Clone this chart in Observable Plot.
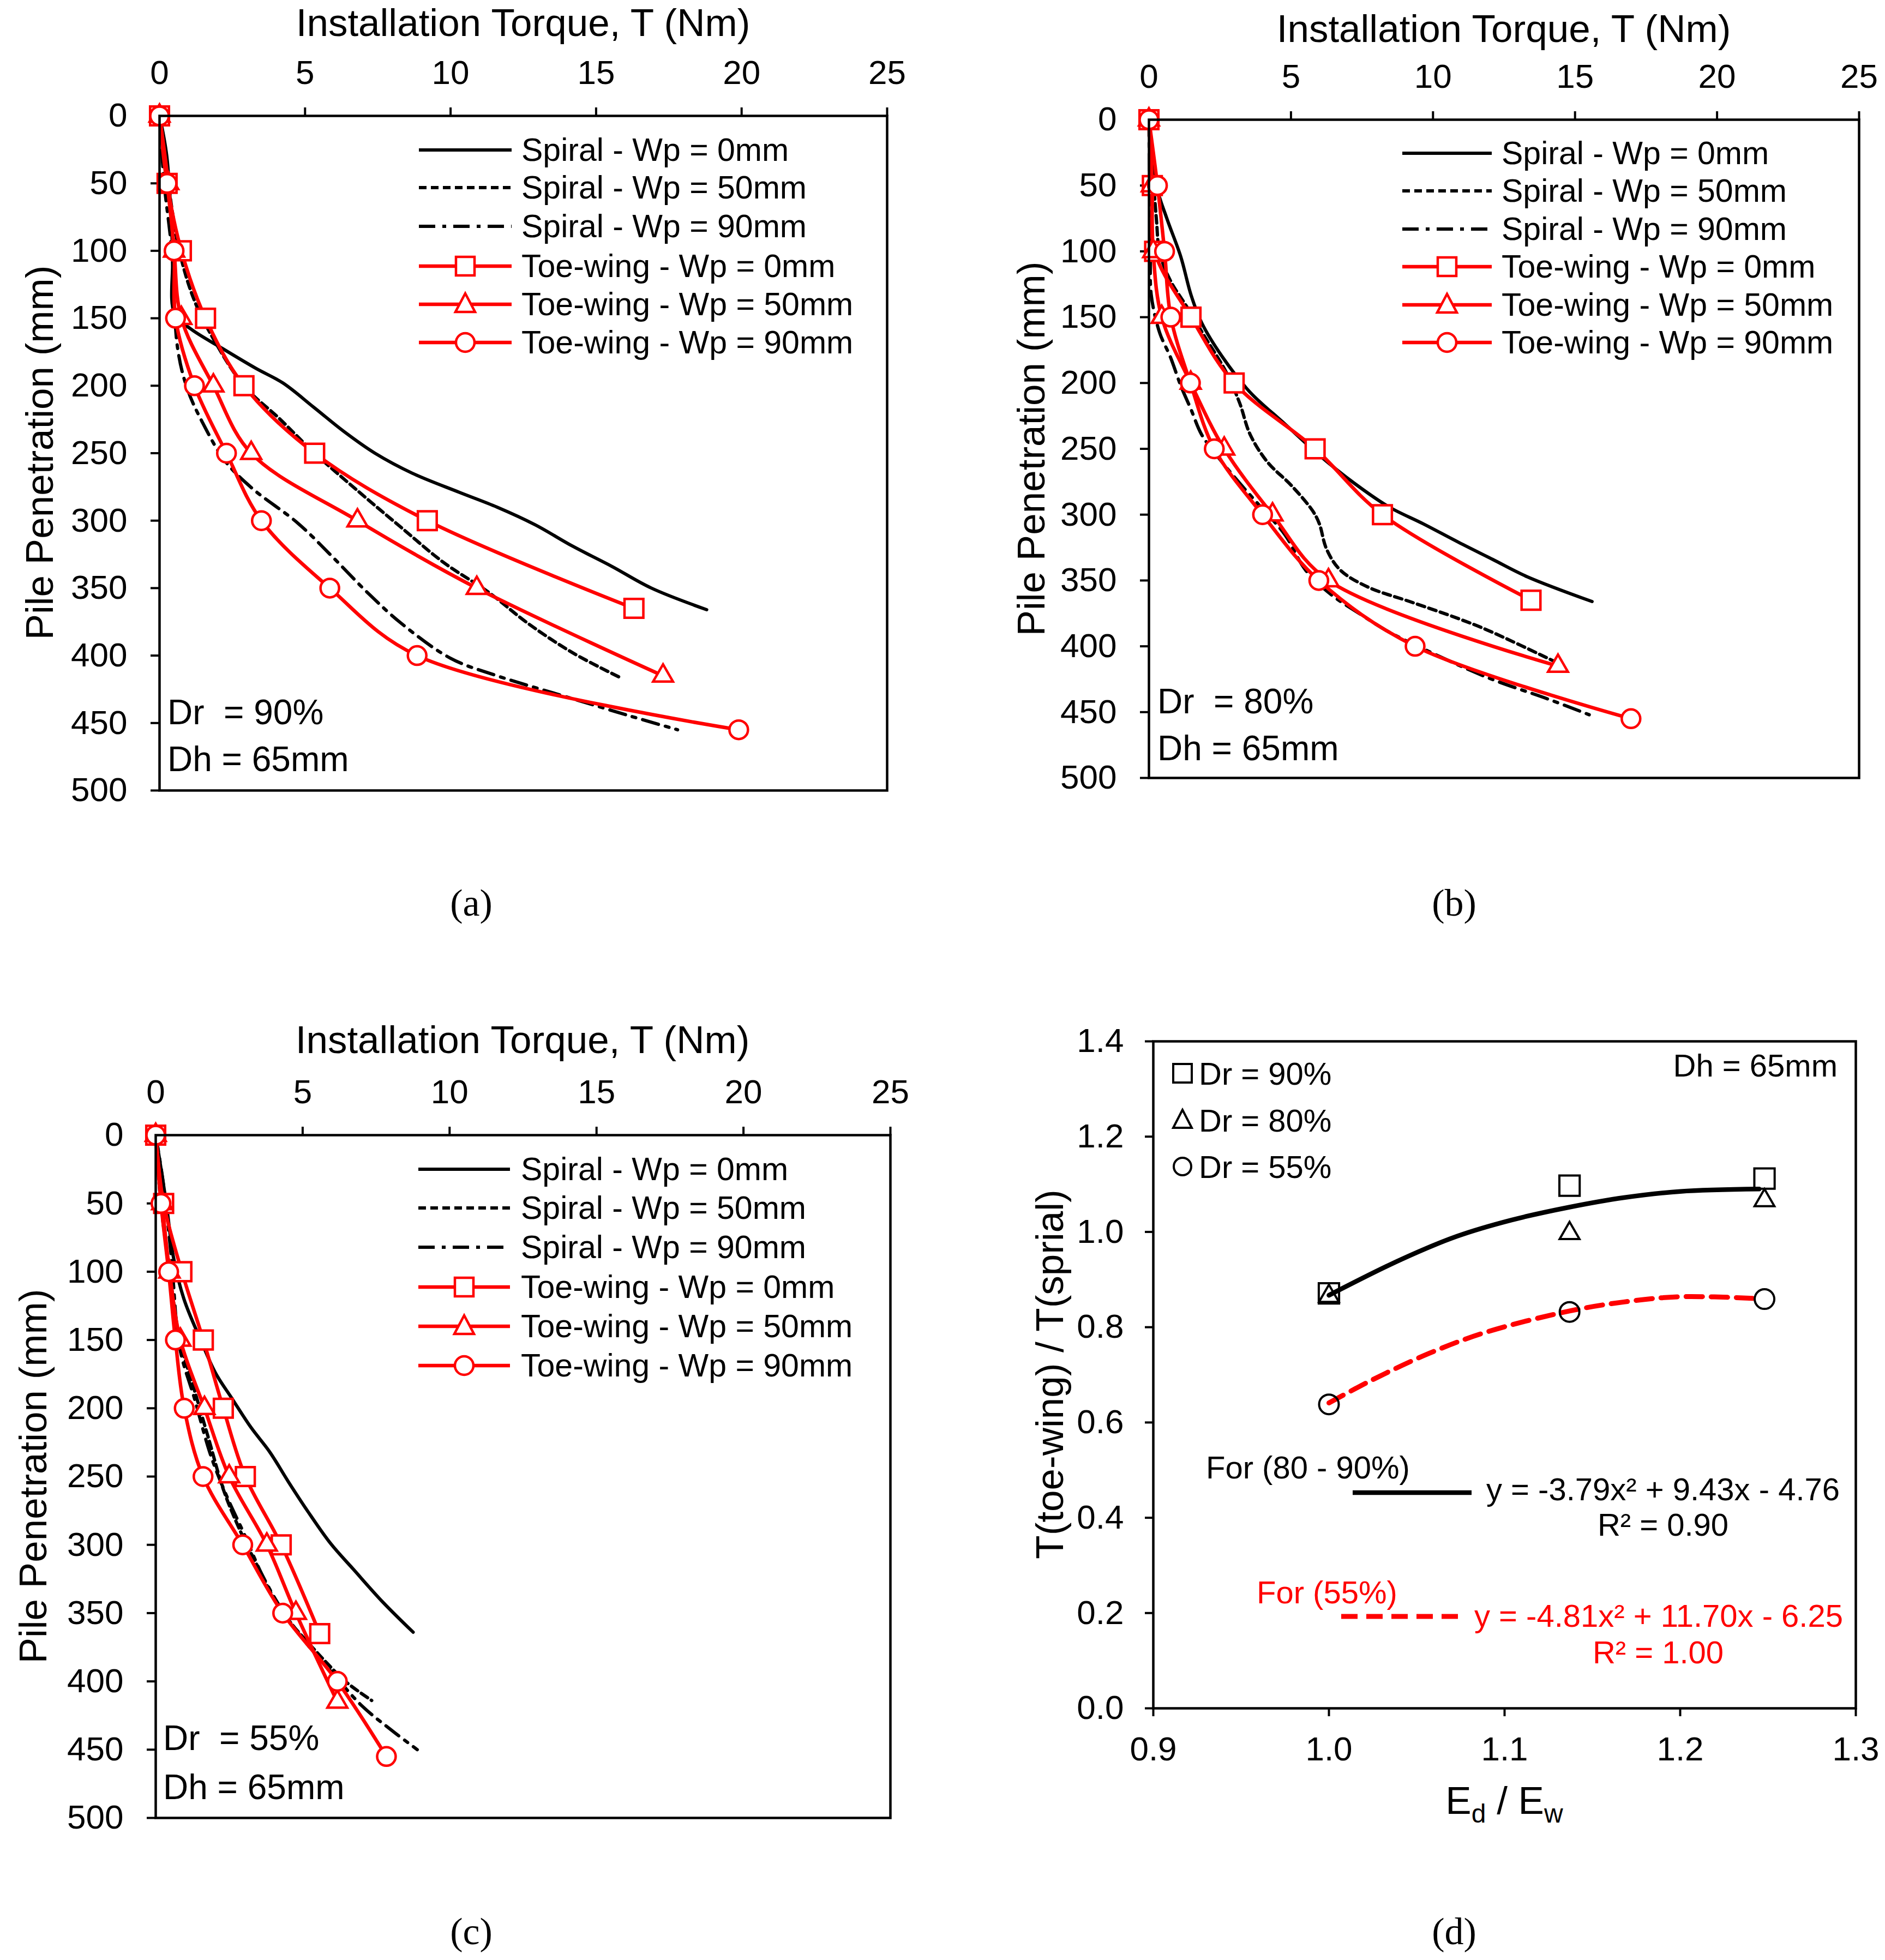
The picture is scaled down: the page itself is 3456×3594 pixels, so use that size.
<!DOCTYPE html>
<html>
<head>
<meta charset="utf-8">
<script src="https://cdn.jsdelivr.net/npm/d3@7"></script>
<script src="https://cdn.jsdelivr.net/npm/@observablehq/plot@0.6"></script>
<style>
  body { margin: 0; background: #fff; }
  #page { position: relative; width: 3456px; height: 3594px; background: #fff; overflow: hidden; }
  .panel { position: absolute; }
  #overlay { position: absolute; left: 0; top: 0; pointer-events: none; }
</style>
</head>
<body>
<div id="page"></div>
<script>
// Axis ticks shared by the three torque panels
const torqueTicks = [0, 5, 10, 15, 20, 25];
const depthTicks = [0, 50, 100, 150, 200, 250, 300, 350, 400, 450, 500];
const ratioTicksX = [0.9, 1.0, 1.1, 1.2, 1.3];
const ratioTicksY = [0, 0.2, 0.4, 0.6, 0.8, 1.0, 1.2, 1.4];

const seriesNames = [
    "Spiral - Wp = 0mm",
    "Spiral - Wp = 50mm",
    "Spiral - Wp = 90mm",
    "Toe-wing - Wp = 0mm",
    "Toe-wing - Wp = 50mm",
    "Toe-wing - Wp = 90mm"
];

// Toe-wing measurement depths (mm)
const sqDepth = [0, 50, 100, 150, 200, 250, 300, 365];
const triDepth = [0, 50, 100, 150, 200, 250, 300, 350, 415];
const cirDepth = [0, 50, 100, 150, 200, 250, 300, 350, 400, 455];

// (a) Dr = 90% - toe-wing torque (Nm)
const aSq = [0, 0.26, 0.75, 1.58, 2.9, 5.33, 9.2, 16.3];
const aTri = [0, 0.3, 0.5, 0.75, 1.85, 3.15, 6.8, 10.9, 17.3];
const aCir = [0, 0.26, 0.5, 0.55, 1.2, 2.3, 3.5, 5.85, 8.85, 19.9];
// (a) spiral curves [torque, depth]
const aSpiral0 = [[0, 0], [0.25, 30], [0.45, 100], [0.52, 147], [1.08, 158], [2.13, 172], [3.3, 187], [4.24, 198], [5.3, 216], [6.34, 234], [7.4, 250], [8.7, 265], [10.3, 279], [11.6, 290], [12.9, 303], [14.2, 319], [15.55, 334], [16.9, 350], [18.8, 366]];
const aSpiral50 = [[0, 0], [0.3, 50], [0.68, 100], [1.2, 137], [1.87, 166], [2.9, 200], [4.1, 224], [5.33, 250], [6.87, 279], [8.3, 305], [9.76, 331], [11.3, 353], [12.65, 376], [14.2, 398], [15.8, 416]];
const aSpiral90 = [[0, 0], [0.16, 50], [0.42, 100], [0.62, 172], [0.95, 202], [1.47, 227], [2.26, 256], [3.18, 276], [4.76, 302], [5.95, 327], [7.13, 353], [8.3, 376], [10.0, 402], [11.6, 415], [14.2, 432], [16.2, 445], [17.8, 455]];

// (b) Dr = 80%
const bSq = [0, 0.12, 0.2, 1.48, 3.0, 5.85, 8.22, 13.45];
const bTri = [0, 0.1, 0.15, 0.45, 1.47, 2.65, 4.35, 6.32, 14.4];
const bCir = [0, 0.3, 0.55, 0.77, 1.46, 2.3, 4.0, 5.98, 9.37, 16.97];
const bSpiral0 = [[0, 0], [0.26, 50], [0.63, 75], [1.12, 104], [1.48, 133], [1.85, 154], [2.58, 180], [3.56, 207], [4.78, 231], [6.0, 255], [7.22, 276], [8.44, 294], [9.66, 307], [10.9, 321], [12.1, 334], [13.3, 347], [15.6, 366]];
const bSpiral50 = [[0, 0], [0.26, 75], [0.38, 101], [0.75, 122], [1.36, 143], [1.97, 165], [2.7, 191], [3.19, 215], [3.56, 239], [4.17, 260], [5.02, 278], [5.76, 297], [6.0, 307], [6.25, 326], [6.73, 342], [7.71, 355], [9.18, 366], [10.9, 379], [11.95, 388], [14.42, 413]];
const bSpiral90 = [[0, 0], [0.05, 100], [0.08, 133], [0.38, 162], [0.75, 180], [1.12, 202], [1.48, 220], [1.85, 239], [2.46, 257], [3.19, 276], [3.93, 294], [4.78, 315], [5.51, 342], [6.37, 360], [7.47, 376], [8.44, 389], [9.86, 404], [11.95, 424], [14.04, 440], [15.5, 452]];

// (c) Dr = 55%
const cSq = [0, 0.27, 0.89, 1.62, 2.3, 3.05, 4.27, 5.58];
const cTri = [0, 0.22, 0.47, 0.84, 1.66, 2.5, 3.78, 4.77, 6.18];
const cCir = [0, 0.18, 0.44, 0.67, 0.97, 1.61, 2.96, 4.32, 6.18, 7.85];
const cSpiral0 = [[0, 0], [0.36, 50], [0.6, 89], [0.96, 120], [1.53, 150], [2.03, 174], [2.6, 193], [3.24, 214], [3.88, 232], [4.52, 254], [5.16, 275], [5.95, 299], [6.73, 318], [7.73, 342], [8.76, 364]];
const cSpiral50 = [[0, 0], [0.17, 49], [0.46, 98], [0.82, 150], [1.32, 187], [1.81, 223], [2.31, 260], [2.88, 290], [3.45, 315], [4.02, 339], [4.59, 357], [5.24, 373], [5.8, 386], [6.45, 400], [7.35, 414]];
const cSpiral90 = [[0, 0], [0.25, 34], [0.53, 89], [0.82, 156], [1.32, 193], [1.88, 235], [2.45, 266], [3.03, 293], [3.6, 321], [4.31, 348], [5.16, 373], [6.02, 394], [7.02, 418], [8.16, 438], [8.9, 450]];

// (d) torque ratio vs Ed/Ew
const edRatio = [1.0, 1.137, 1.248];
const dr90 = [0.871, 1.097, 1.112];
const dr80 = [0.865, 0.997, 1.066];
const dr55 = [0.638, 0.832, 0.859];
const fitHigh = [[1.0, 0.867], [1.041, 0.942], [1.073, 0.991], [1.104, 1.025], [1.137, 1.052], [1.168, 1.072], [1.2, 1.085], [1.245, 1.09]];
const fit55 = [[1.0, 0.641], [1.025, 0.69], [1.057, 0.745], [1.089, 0.789], [1.137, 0.834], [1.168, 0.853], [1.2, 0.864], [1.245, 0.86]];
const drLabels = ["Dr = 90%", "Dr = 80%", "Dr = 55%"];

const RED = "#ff0000";
const FONT = "'Liberation Sans', Arial, sans-serif";
const page = document.getElementById("page");

// plot frames on the page (px)
const frameA = {x0: 292, x1: 1626, y0: 212, y1: 1449};
const frameB = {x0: 2106, x1: 3408, y0: 219, y1: 1426};
const frameC = {x0: 285, x1: 1632, y0: 2081, y1: 3333};
const frameD = {x0: 2114, x1: 3402, y0: 1909, y1: 3132};

// line weights
const BLACK_W = 6;
const RED_W = 6.5;
const MARK_W = 4.5;

function place(svg, left, top, w, h) {
    const div = document.createElement("div");
    div.className = "panel";
    div.style.left = left + "px";
    div.style.top = top + "px";
    div.style.width = w + "px";
    div.style.height = h + "px";
    div.appendChild(svg);
    page.appendChild(div);
}

function torquePanel(f, sp0, sp50, sp90, sq, tri, cir) {
    const ML = 200, MT = 170, MR = 40, MB = 40;
    const w = f.x1 - f.x0 + ML + MR;
    const h = f.y1 - f.y0 + MT + MB;
    const sqPts = d3.zip(sq, sqDepth);
    const triPts = d3.zip(tri, triDepth);
    const cirPts = d3.zip(cir, cirDepth);
    const xy = {x: d => d[0], y: d => d[1]};
    const smooth = {...xy, curve: "catmull-rom"};

    const chart = Plot.plot({
        width: w,
        height: h,
        marginLeft: ML,
        marginTop: MT,
        marginRight: MR,
        marginBottom: MB,
        style: {fontFamily: FONT, fontSize: "62px", color: "black", background: "transparent", maxWidth: "none"},
        x: {domain: [0, 25]},
        y: {domain: [0, 500], reverse: true},
        marks: [
            Plot.axisX({anchor: "top", ticks: torqueTicks, tickSize: 16, tickPadding: 43, strokeWidth: 4, label: null}),
            Plot.axisY({anchor: "left", ticks: depthTicks, tickSize: 16, tickPadding: 43, strokeWidth: 4, label: null}),
            // spiral piles (black)
            Plot.line(sp0, {...smooth, stroke: "black", strokeWidth: BLACK_W}),
            Plot.line(sp50, {...smooth, stroke: "black", strokeWidth: BLACK_W, strokeDasharray: "14,8"}),
            Plot.line(sp90, {...smooth, stroke: "black", strokeWidth: BLACK_W, strokeDasharray: "30,13,7,13"}),
            // toe-wing piles (red)
            Plot.line(sqPts, {...smooth, stroke: RED, strokeWidth: RED_W}),
            Plot.line(triPts, {...smooth, stroke: RED, strokeWidth: RED_W}),
            Plot.line(cirPts, {...smooth, stroke: RED, strokeWidth: RED_W}),
            Plot.dot(sqPts, {...xy, symbol: "square", r: 19.5, stroke: RED, fill: "white", strokeWidth: MARK_W}),
            Plot.dot(triPts, {...xy, symbol: "triangle", r: 13.5, stroke: RED, fill: "white", strokeWidth: MARK_W}),
            Plot.dot(cirPts, {...xy, symbol: "circle", r: 17, stroke: RED, fill: "white", strokeWidth: MARK_W}),
            Plot.frame({stroke: "black", strokeWidth: 4.5})
        ]
    });
    place(chart, f.x0 - ML, f.y0 - MT, w, h);
}

function ratioPanel(f) {
    const ML = 200, MT = 60, MR = 60, MB = 130;
    const w = f.x1 - f.x0 + ML + MR;
    const h = f.y1 - f.y0 + MT + MB;
    const fmt = d3.format(".1f");
    const xy = {x: d => d[0], y: d => d[1]};
    const chart = Plot.plot({
        width: w,
        height: h,
        marginLeft: ML,
        marginTop: MT,
        marginRight: MR,
        marginBottom: MB,
        style: {fontFamily: FONT, fontSize: "62px", color: "black", background: "transparent", maxWidth: "none"},
        x: {domain: [0.9, 1.3]},
        y: {domain: [0, 1.4]},
        marks: [
            Plot.axisX({anchor: "bottom", ticks: ratioTicksX, tickFormat: fmt, tickSize: 15, tickPadding: 36, strokeWidth: 4, label: null}),
            Plot.axisY({anchor: "left", ticks: ratioTicksY, tickFormat: fmt, tickSize: 15, tickPadding: 39, strokeWidth: 4, label: null}),
            Plot.line(fitHigh, {...xy, curve: "catmull-rom", stroke: "black", strokeWidth: 8.5}),
            Plot.line(fit55, {...xy, curve: "catmull-rom", stroke: RED, strokeWidth: 9, strokeDasharray: "30,16"}),
            Plot.dot(d3.zip(edRatio, dr90), {...xy, symbol: "square", r: 21, stroke: "black", fill: "none", strokeWidth: 4}),
            Plot.dot(d3.zip(edRatio, dr80), {...xy, symbol: "triangle", r: 13.5, stroke: "black", fill: "none", strokeWidth: 4}),
            Plot.dot(d3.zip(edRatio, dr55), {...xy, symbol: "circle", r: 18, stroke: "black", fill: "none", strokeWidth: 4}),
            Plot.frame({stroke: "black", strokeWidth: 4.5})
        ]
    });
    place(chart, f.x0 - ML, f.y0 - MT, w, h);
}

torquePanel(frameA, aSpiral0, aSpiral50, aSpiral90, aSq, aTri, aCir);
torquePanel(frameB, bSpiral0, bSpiral50, bSpiral90, bSq, bTri, bCir);
torquePanel(frameC, cSpiral0, cSpiral50, cSpiral90, cSq, cTri, cCir);
ratioPanel(frameD);

// ---- text, legends and panel letters drawn on one overlay ----
function markerSvg(kind, cx, cy, color, fill, sw) {
    if (kind === "square") {
        return `<rect x="${cx - 17}" y="${cy - 17}" width="34" height="34" fill="${fill}" stroke="${color}" stroke-width="${sw}"/>`;
    } else if (kind === "triangle") {
        return `<polygon points="${cx},${cy - 20} ${cx - 18},${cy + 14} ${cx + 18},${cy + 14}" fill="${fill}" stroke="${color}" stroke-width="${sw}"/>`;
    } else if (kind === "circle") {
        return `<circle cx="${cx}" cy="${cy}" r="17" fill="${fill}" stroke="${color}" stroke-width="${sw}"/>`;
    }
    return "";
}

function seriesLegend(f, lx0, lx1, tx, rows) {
    const styles = [
        {stroke: "black", w: BLACK_W, dash: null, marker: null},
        {stroke: "black", w: BLACK_W, dash: "14,8", marker: null},
        {stroke: "black", w: BLACK_W, dash: "30,13,7,13", marker: null},
        {stroke: RED, w: RED_W, dash: null, marker: "square"},
        {stroke: RED, w: RED_W, dash: null, marker: "triangle"},
        {stroke: RED, w: RED_W, dash: null, marker: "circle"}
    ];
    let out = "";
    seriesNames.forEach((name, i) => {
        const s = styles[i];
        const y = f.y0 + rows[i];
        const x0 = f.x0 + lx0, x1 = f.x0 + lx1;
        out += `<line x1="${x0}" y1="${y}" x2="${x1}" y2="${y}" stroke="${s.stroke}" stroke-width="${s.w}"${s.dash ? ` stroke-dasharray="${s.dash}"` : ""}/>`;
        if (s.marker) out += markerSvg(s.marker, (x0 + x1) / 2, y, RED, "white", MARK_W);
        out += `<text x="${f.x0 + tx}" y="${y}" dominant-baseline="central" font-size="59">${name}</text>`;
    });
    return out;
}

function densityNote(f, dx, drUp, dhUp, dr) {
    return `<text x="${f.x0 + dx}" y="${f.y1 - drUp}" dominant-baseline="central" font-size="64" style="white-space:pre">Dr  = ${dr}</text>` +
        `<text x="${f.x0 + dx}" y="${f.y1 - dhUp}" dominant-baseline="central" font-size="64">Dh = 65mm</text>`;
}

let ov = "";
// axis titles
const torqueTitle = "Installation Torque, T (Nm)";
const depthTitle = "Pile Penetration (mm)";
ov += `<text x="959" y="66" text-anchor="middle" font-size="71">${torqueTitle}</text>`;
ov += `<text x="2757" y="77" text-anchor="middle" font-size="71">${torqueTitle}</text>`;
ov += `<text x="958" y="1931" text-anchor="middle" font-size="71">${torqueTitle}</text>`;
ov += `<text transform="translate(97,830) rotate(-90)" text-anchor="middle" font-size="71">${depthTitle}</text>`;
ov += `<text transform="translate(1915,823) rotate(-90)" text-anchor="middle" font-size="71">${depthTitle}</text>`;
ov += `<text transform="translate(85,2707) rotate(-90)" text-anchor="middle" font-size="71">${depthTitle}</text>`;
ov += `<text transform="translate(1949,2520) rotate(-90)" text-anchor="middle" font-size="71">T(toe-wing) / T(sprial)</text>`;
ov += `<text x="2758" y="3326" text-anchor="middle" font-size="71">E<tspan dy="16" font-size="48">d</tspan><tspan dy="-16"> / E</tspan><tspan dy="16" font-size="48">w</tspan></text>`;

// legends
ov += seriesLegend(frameA, 476, 646, 664, [63, 132, 203, 276, 346, 416]);
ov += seriesLegend(frameB, 465, 629, 647, [62, 131, 201, 270, 340, 409]);
ov += seriesLegend(frameC, 482, 650, 670, [63, 134, 206, 279, 351, 423]);

ov += densityNote(frameA, 15, 143, 57, "90%");
ov += densityNote(frameB, 16, 140, 54, "80%");
ov += densityNote(frameC, 14, 146, 56, "55%");

// (d) legend and fit annotations
const dKinds = ["square", "triangle", "circle"];
const dRows = [1968, 2054, 2139];
drLabels.forEach((lab, i) => {
    const cy = dRows[i];
    if (dKinds[i] === "square") ov += `<rect x="2151" y="${cy - 17}" width="34" height="34" fill="none" stroke="black" stroke-width="4"/>`;
    if (dKinds[i] === "triangle") ov += `<polygon points="2168,${cy - 19} 2151,${cy + 14} 2185,${cy + 14}" fill="none" stroke="black" stroke-width="4"/>`;
    if (dKinds[i] === "circle") ov += `<circle cx="2168" cy="${cy}" r="16" fill="none" stroke="black" stroke-width="4"/>`;
    ov += `<text x="2198" y="${cy}" dominant-baseline="central" font-size="58">${lab}</text>`;
});
ov += `<text x="3369" y="1953" text-anchor="end" dominant-baseline="central" font-size="58">Dh = 65mm</text>`;
ov += `<text x="2211" y="2690" dominant-baseline="central" font-size="58">For (80 - 90%)</text>`;
ov += `<line x1="2480" y1="2737" x2="2698" y2="2737" stroke="black" stroke-width="8.5"/>`;
ov += `<text x="3049" y="2730" text-anchor="middle" dominant-baseline="central" font-size="58">y = -3.79x² + 9.43x - 4.76</text>`;
ov += `<text x="3049" y="2795" text-anchor="middle" dominant-baseline="central" font-size="58">R² = 0.90</text>`;
ov += `<text x="2304" y="2919" dominant-baseline="central" font-size="58" fill="${RED}">For (55%)</text>`;
ov += `<line x1="2459" y1="2964" x2="2674" y2="2964" stroke="${RED}" stroke-width="9" stroke-dasharray="30,16"/>`;
ov += `<text x="3041" y="2962" text-anchor="middle" dominant-baseline="central" font-size="58" fill="${RED}">y = -4.81x² + 11.70x - 6.25</text>`;
ov += `<text x="3040" y="3029" text-anchor="middle" dominant-baseline="central" font-size="58" fill="${RED}">R² = 1.00</text>`;

// panel letters
const panelLetters = ["(a)", "(b)", "(c)", "(d)"];
const letterPos = [[864, 1655], [2666, 1655], [864, 3541], [2666, 3541]];
panelLetters.forEach((t, i) => {
    ov += `<text x="${letterPos[i][0]}" y="${letterPos[i][1]}" text-anchor="middle" dominant-baseline="central" font-size="70" font-family="'Liberation Serif', serif">${t}</text>`;
});

const overlay = document.createElement("div");
overlay.id = "overlay";
overlay.innerHTML = `<svg xmlns="http://www.w3.org/2000/svg" width="3456" height="3594" font-family="${FONT.replace(/'/g, "")}" fill="black">${ov}</svg>`;
page.appendChild(overlay);
</script>
</body>
</html>
